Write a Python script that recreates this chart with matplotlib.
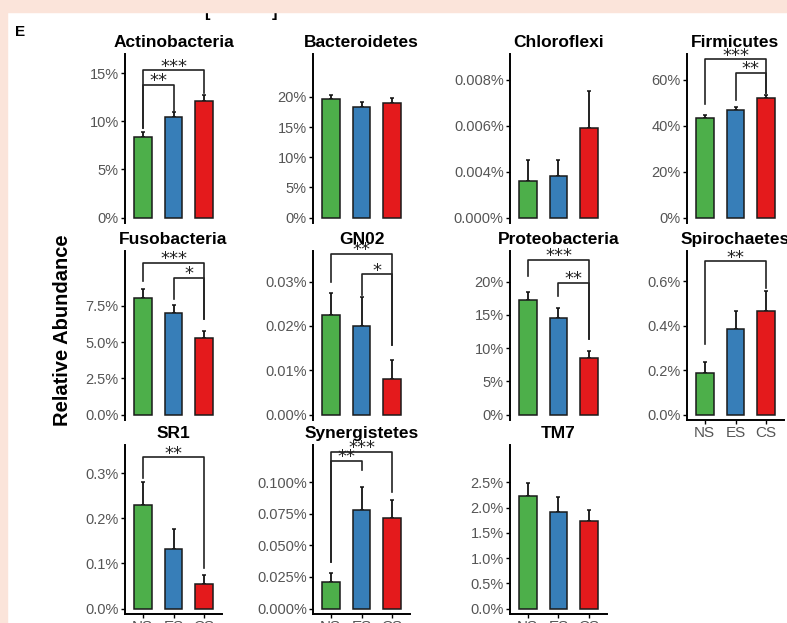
import numpy as np
import matplotlib
matplotlib.use("Agg")
import matplotlib.pyplot as plt
from matplotlib.patches import Rectangle

plt.rcParams['font.family'] = ['Liberation Sans', 'DejaVu Sans']

groups = ["NS", "ES", "CS"]
colors = ["#4daf4a", "#377eb8", "#e41a1c"]

phyla = ["Actinobacteria", "Bacteroidetes", "Chloroflexi", "Firmicutes",
         "Fusobacteria", "GN02", "Proteobacteria", "Spirochaetes",
         "SR1", "Synergistetes", "TM7"]

# mean relative abundance (%) for NS / ES / CS
means = [
    [8.4, 10.5, 12.1],
    [19.6, 18.3, 18.9],
    [0.0036, 0.0038, 0.0059],
    [43.5, 46.7, 52.2],
    [8.05, 7.05, 5.3],
    [0.0225, 0.0200, 0.0080],
    [17.3, 14.5, 8.5],
    [0.185, 0.385, 0.465],
    [0.23, 0.132, 0.055],
    [0.021, 0.078, 0.072],
    [2.22, 1.92, 1.74],
]

# standard error (upper bar only)
sems = [
    [0.45, 0.45, 0.65],
    [0.7, 0.9, 0.9],
    [0.0009, 0.0007, 0.0016],
    [1.3, 1.4, 1.3],
    [0.6, 0.55, 0.5],
    [0.005, 0.0065, 0.0042],
    [1.2, 1.5, 1.0],
    [0.05, 0.08, 0.09],
    [0.05, 0.045, 0.02],
    [0.007, 0.018, 0.014],
    [0.26, 0.28, 0.22],
]

# axis floor and top of each free y scale
ybase = [0, 0, 0.002, 0, 0, 0, 0, 0, 0, 0, 0]
ytop = [17.0, 27.1, 0.00913, 71.3, 11.3, 0.0369, 24.6, 0.737, 0.362, 0.1296, 3.24]

yticks = [
    [0, 5, 10, 15],
    [0, 5, 10, 15, 20],
    [0.002, 0.004, 0.006, 0.008],
    [0, 20, 40, 60],
    [0, 2.5, 5, 7.5],
    [0, 0.01, 0.02, 0.03],
    [0, 5, 10, 15, 20],
    [0, 0.2, 0.4, 0.6],
    [0, 0.1, 0.2, 0.3],
    [0, 0.025, 0.05, 0.075, 0.1],
    [0, 0.5, 1.0, 1.5, 2.0, 2.5],
]
yticklabels = [
    ["0%", "5%", "10%", "15%"],
    ["0%", "5%", "10%", "15%", "20%"],
    ["0.000%", "0.004%", "0.006%", "0.008%"],
    ["0%", "20%", "40%", "60%"],
    ["0.0%", "2.5%", "5.0%", "7.5%"],
    ["0.00%", "0.01%", "0.02%", "0.03%"],
    ["0%", "5%", "10%", "15%", "20%"],
    ["0.0%", "0.2%", "0.4%", "0.6%"],
    ["0.0%", "0.1%", "0.2%", "0.3%"],
    ["0.000%", "0.025%", "0.050%", "0.075%", "0.100%"],
    ["0.0%", "0.5%", "1.0%", "1.5%", "2.0%", "2.5%"],
]

# significance brackets: (from, to, label, height, left tip end, right tip end)
brackets = [
    [(0, 2, "***", 15.3, 9.3, 12.9), (0, 1, "**", 13.8, 9.3, 11.1)],
    [],
    [],
    [(0, 2, "***", 69.0, 49.3, 54.4), (1, 2, "**", 63.0, 51.3, 54.4)],
    [(0, 2, "***", 10.5, 9.2, 6.6), (1, 2, "*", 9.45, 8.0, 6.6)],
    [(0, 2, "**", 0.0362, 0.0300, 0.0158), (1, 2, "*", 0.0316, 0.0270, 0.0158)],
    [(0, 2, "***", 23.3, 20.8, 11.4), (1, 2, "**", 19.8, 17.9, 11.4)],
    [(0, 2, "**", 0.69, 0.32, 0.57)],
    [(0, 2, "**", 0.335, 0.29, 0.09)],
    [(0, 2, "***", 0.124, 0.037, 0.092), (0, 1, "**", 0.117, 0.037, 0.110)],
    [],
]

W, H = 787, 623
fig = plt.figure(figsize=(W / 100, H / 100), dpi=100)
fig.patch.set_facecolor("white")

col_x = [125, 313, 510, 687]
row_top = [54, 251, 445]
pw, ph = 97, 169
bottom_panels = [7, 8, 9, 10]
grey = "#555555"

for k, name in enumerate(phyla):
    r, c = divmod(k, 4)
    ax = fig.add_axes([col_x[c] / W, 1 - (row_top[r] + ph) / H, pw / W, ph / H])
    x = np.arange(3)
    m = np.array(means[k])
    e = np.array(sems[k])
    base = ybase[k]

    ax.errorbar(x, m, yerr=[np.zeros(3), e], fmt="none", ecolor="#111111",
                elinewidth=1.3, capsize=1.5, capthick=1.1, zorder=1)
    ax.bar(x, m - base, bottom=base, width=0.58, color=colors,
           edgecolor="#1a1a1a", linewidth=1.1, zorder=2)

    span = ytop[k] - base
    ax.set_ylim(base - 0.0335 * span, ytop[k])
    ax.set_xlim(-0.58, 2.58)

    for s in ["top", "right"]:
        ax.spines[s].set_visible(False)
    ax.spines["left"].set_linewidth(1.4)

    ax.set_yticks(yticks[k])
    ax.set_yticklabels(yticklabels[k], fontsize=10.5, color=grey)
    ax.tick_params(axis="y", length=3, width=1, pad=1.5)

    if k in bottom_panels:
        ax.spines["bottom"].set_linewidth(1.4)
        ax.set_xticks(x)
        ax.set_xticklabels(groups, fontsize=11, color=grey)
        ax.tick_params(axis="x", length=3, width=1, pad=1.5)
    else:
        ax.spines["bottom"].set_visible(False)
        ax.tick_params(axis="x", bottom=False, labelbottom=False)

    ax.annotate(name, xy=(0.5, 1), xycoords="axes fraction", xytext=(0, 8),
                textcoords="offset points", ha="center", va="center",
                fontsize=12.5, fontweight="bold")

    for i, j, lab, y, ti, tj in brackets[k]:
        ax.plot([i, i, j, j], [ti, y, y, tj], color="#222222", lw=1.2,
                clip_on=False, zorder=3)
        ax.annotate(lab, xy=((i + j) / 2, y), xytext=(0, -1),
                    textcoords="offset points", ha="center", va="baseline",
                    fontsize=13, family="DejaVu Sans", color="#222222",
                    annotation_clip=False)

fig.text(63 / W, 1 - 330 / H, "Relative Abundance", rotation=90,
         ha="center", va="center", fontsize=14.5, fontweight="bold")
fig.text(20 / W, 1 - 32 / H, "E", ha="center", va="center",
         fontsize=11, fontweight="bold")

# cut-off brackets from the panel above
fig.text(207 / W, 1 - 12 / H, "[", ha="center", va="center", fontsize=12,
         fontweight="bold", zorder=1)
fig.text(275 / W, 1 - 12 / H, "]", ha="center", va="center", fontsize=12,
         fontweight="bold", zorder=1)

fig.add_artist(Rectangle((0, 1 - 12 / H), 1, 12 / H, transform=fig.transFigure,
                         color="#fbe4da", zorder=10))
fig.add_artist(Rectangle((0, 0), 7 / W, 1, transform=fig.transFigure,
                         color="#fbe4da", zorder=10))

fig.savefig("out.png", dpi=100)
